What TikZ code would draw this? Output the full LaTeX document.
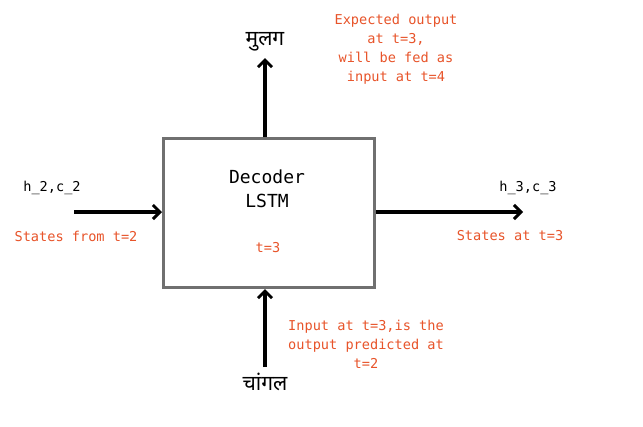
\documentclass[tikz,border=0pt]{standalone}
\usepackage{fontspec}
\setmonofont{DejaVu Sans Mono}
\newfontfamily\devfont[Script=Devanagari]{Noto Sans}
\usetikzlibrary{arrows.meta}
\definecolor{note}{HTML}{E8542A}
\definecolor{boxgray}{HTML}{707070}
\tikzset{
  lbl/.style={font=\ttfamily\fontsize{13.6}{19}\selectfont, text=black, align=center, inner sep=0pt},
  biglbl/.style={font=\ttfamily\fontsize{18}{24}\selectfont, text=black, align=center, inner sep=0pt},
  notetxt/.style={font=\ttfamily\fontsize{13.6}{19}\selectfont, text=note, align=center, inner sep=0pt},
  hindi/.style={font=\devfont\fontsize{21}{24}\selectfont, inner sep=0pt},
  arr/.style={line width=3.2pt, -{Straight Barb[length=7pt,width=14pt,line width=3pt]}},
  lstmbox/.style={draw=boxgray, line width=3pt, fill=white, minimum width=211pt, minimum height=149pt, inner sep=0pt}
}
\begin{document}
\begin{tikzpicture}[x=1pt,y=-1pt]
\useasboundingbox[fill=white] (0,0) rectangle (643,426);
\node[lstmbox] (box) at (269,213) {};
\node[biglbl] (dec) at (267,189) {Decoder\\LSTM};
\node[notetxt] (t3) at (268,248) {t=3};
\coordinate (lin) at (74,212);
\coordinate (rout) at (523,212);
\coordinate (tout) at (265,58);
\coordinate (bin) at (265,367);
\draw[arr] (lin) -- (box.west |- lin);
\draw[arr] (box.east |- rout) -- (rout);
\draw[arr] (box.north -| tout) -- (tout);
\draw[arr] (bin) -- (box.south -| bin);
\node[hindi] (out) at (265,42) {मुलग};
\node[hindi] (in) at (265,382) {चांगल};
\node[lbl] (h2) at (52,188) {h\_2,c\_2};
\node[notetxt] (s2) at (76,236) {States from t=2};
\node[lbl] (h3) at (528,188) {h\_3,c\_3};
\node[notetxt] (s3) at (510,236) {States at t=3};
\node[notetxt] (exp) at (396,49) {Expected output\\at t=3,\\will be fed as\\input at t=4};
\node[notetxt] (inp) at (366,344) {Input at t=3,is the\\output predicted at\\t=2};
\end{tikzpicture}
\end{document}
